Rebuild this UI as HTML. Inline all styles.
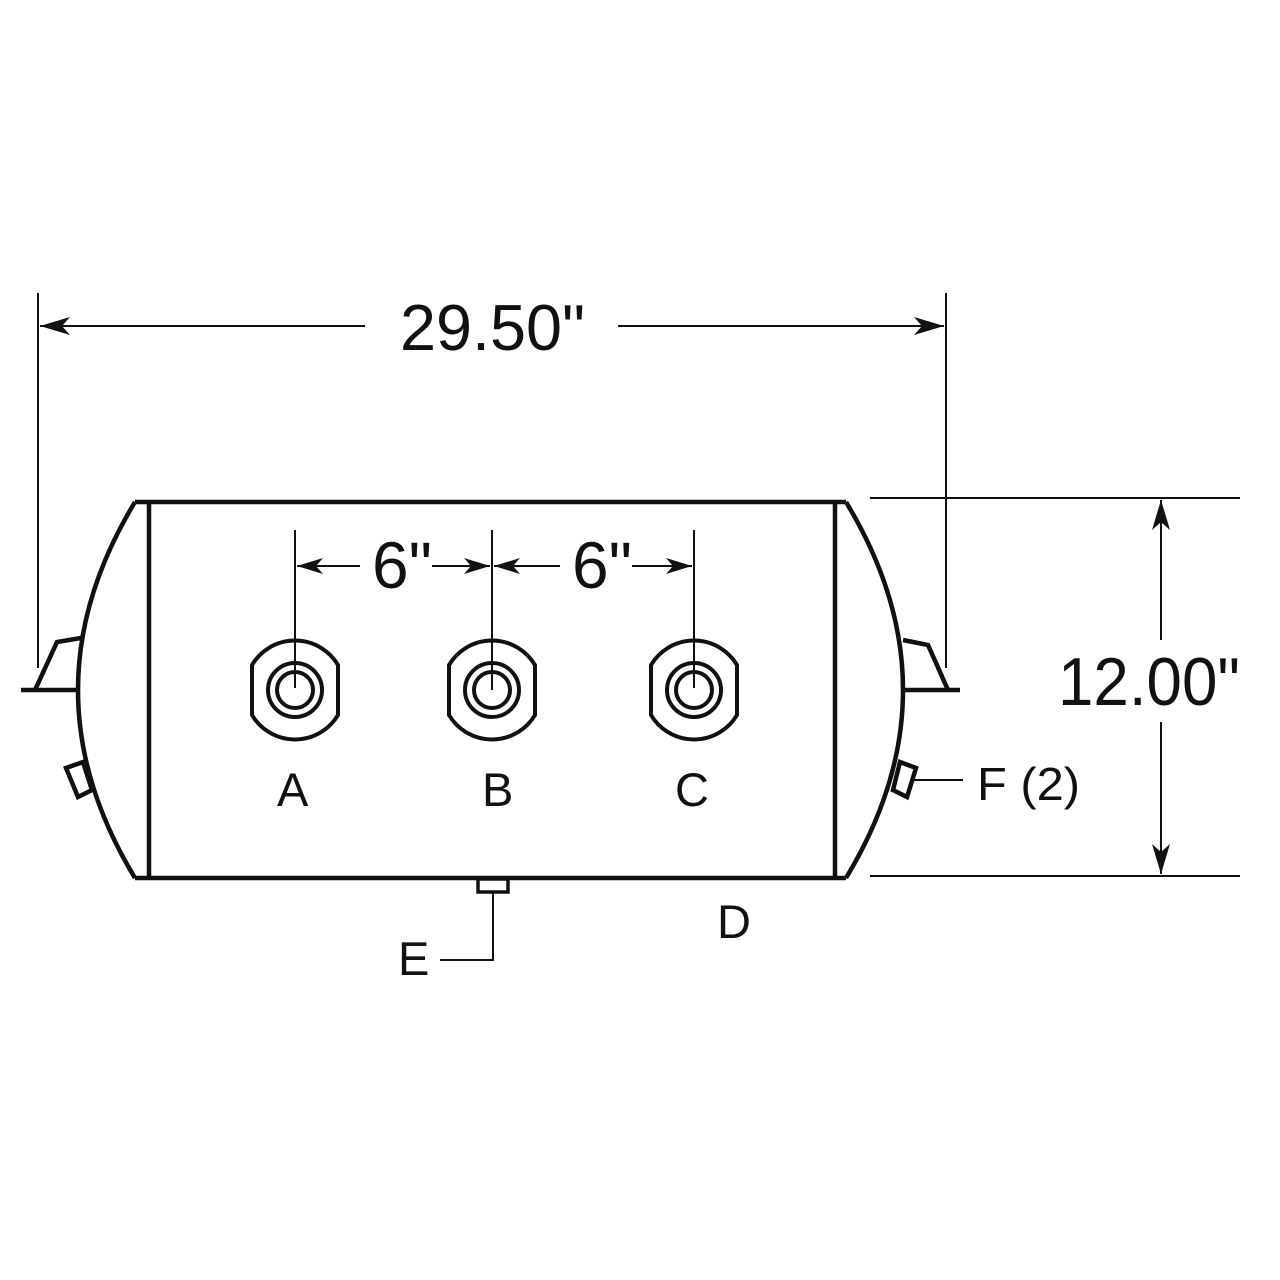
<!DOCTYPE html>
<html><head><style>html,body{margin:0;padding:0;background:#fff}svg{display:block}</style></head><body>
<svg width="1280" height="1280" viewBox="0 0 1280 1280" xmlns="http://www.w3.org/2000/svg" font-family="Liberation Sans, sans-serif" fill="none" stroke="#111">
<defs>
<marker id="ar" viewBox="0 0 26 16" refX="26" refY="8" markerWidth="26" markerHeight="16" markerUnits="userSpaceOnUse" orient="auto-start-reverse"><path d="M0,0 L26,8 L0,16 L7,8 Z" fill="#111" stroke="none"/></marker>
<marker id="ar2" viewBox="0 0 30 18" refX="30" refY="9" markerWidth="30" markerHeight="18" markerUnits="userSpaceOnUse" orient="auto-start-reverse"><path d="M0,0 L30,9 L0,18 L8,9 Z" fill="#111" stroke="none"/></marker>
</defs>
<g stroke-width="2">
<line x1="38" y1="293" x2="38" y2="668"/>
<line x1="946" y1="293" x2="946" y2="668"/>
<line x1="40" y1="326" x2="365" y2="326" marker-start="url(#ar2)"/>
<line x1="618" y1="326" x2="944" y2="326" marker-end="url(#ar2)"/>
<line x1="870" y1="498" x2="1240" y2="498"/>
<line x1="870" y1="876" x2="1240" y2="876"/>
<line x1="1161" y1="500" x2="1161" y2="640" marker-start="url(#ar2)"/>
<line x1="1161" y1="722" x2="1161" y2="874" marker-end="url(#ar2)"/>
<line x1="295" y1="530" x2="295" y2="688"/>
<line x1="492" y1="530" x2="492" y2="690"/>
<line x1="694" y1="530" x2="694" y2="688"/>
<line x1="297" y1="566" x2="360" y2="566" marker-start="url(#ar)"/>
<line x1="432" y1="566" x2="490" y2="566" marker-end="url(#ar)"/>
<line x1="494" y1="566" x2="560" y2="566" marker-start="url(#ar)"/>
<line x1="632" y1="566" x2="692" y2="566" marker-end="url(#ar)"/>
<polyline points="493,892 493,960 440,960"/>
<line x1="912" y1="780" x2="963" y2="780"/>
</g>
<g stroke-width="4.5" stroke-linejoin="miter">
<line x1="135" y1="502" x2="846" y2="502"/>
<line x1="135" y1="878" x2="846" y2="878"/>
<line x1="149" y1="502" x2="149" y2="878"/>
<line x1="835" y1="502" x2="835" y2="878"/>
<path d="M135,502 Q21,690 135,878"/>
<path d="M846,502 Q960,690 846,878"/>
<polyline points="21,690 79,690"/>
<polyline points="35,690 57,642 81,638"/>
<polyline points="903,690 960,690"/>
<polyline points="948,690 928,645 903,640"/>
<polygon points="66,768 83,762 92,790 78,797"/>
<polygon points="900,762 916,768 907,797 893,790"/>
<rect x="478" y="879" width="30" height="13" stroke-width="3.5"/>
</g>
<g stroke-width="4">
<g transform="translate(295,690)"><path d="M-43,-25 A50,50 0 0 1 43,-25 L43,25 A50,50 0 0 1 -43,25 Z"/><circle r="27"/><circle r="18"/></g>
<g transform="translate(492,690)"><path d="M-43,-25 A50,50 0 0 1 43,-25 L43,25 A50,50 0 0 1 -43,25 Z"/><circle r="27"/><circle r="18"/></g>
<g transform="translate(694,690)"><path d="M-43,-25 A50,50 0 0 1 43,-25 L43,25 A50,50 0 0 1 -43,25 Z"/><circle r="27"/><circle r="18"/></g>
</g>
<g fill="#111" stroke="none">
<text x="400" y="350" font-size="65" textLength="185" lengthAdjust="spacingAndGlyphs">29.50"</text>
<text x="372" y="588" font-size="66" textLength="60" lengthAdjust="spacingAndGlyphs">6"</text>
<text x="572" y="588" font-size="66" textLength="60" lengthAdjust="spacingAndGlyphs">6"</text>
<text x="1058" y="705" font-size="68" textLength="182" lengthAdjust="spacingAndGlyphs">12.00"</text>
<text x="277" y="806" font-size="47">A</text>
<text x="482" y="806" font-size="47">B</text>
<text x="675" y="806" font-size="47">C</text>
<text x="717" y="938" font-size="47">D</text>
<text x="398" y="975" font-size="47">E</text>
<text x="977" y="800" font-size="46" textLength="103" lengthAdjust="spacingAndGlyphs">F (2)</text>
</g>
</svg>
</body></html>
